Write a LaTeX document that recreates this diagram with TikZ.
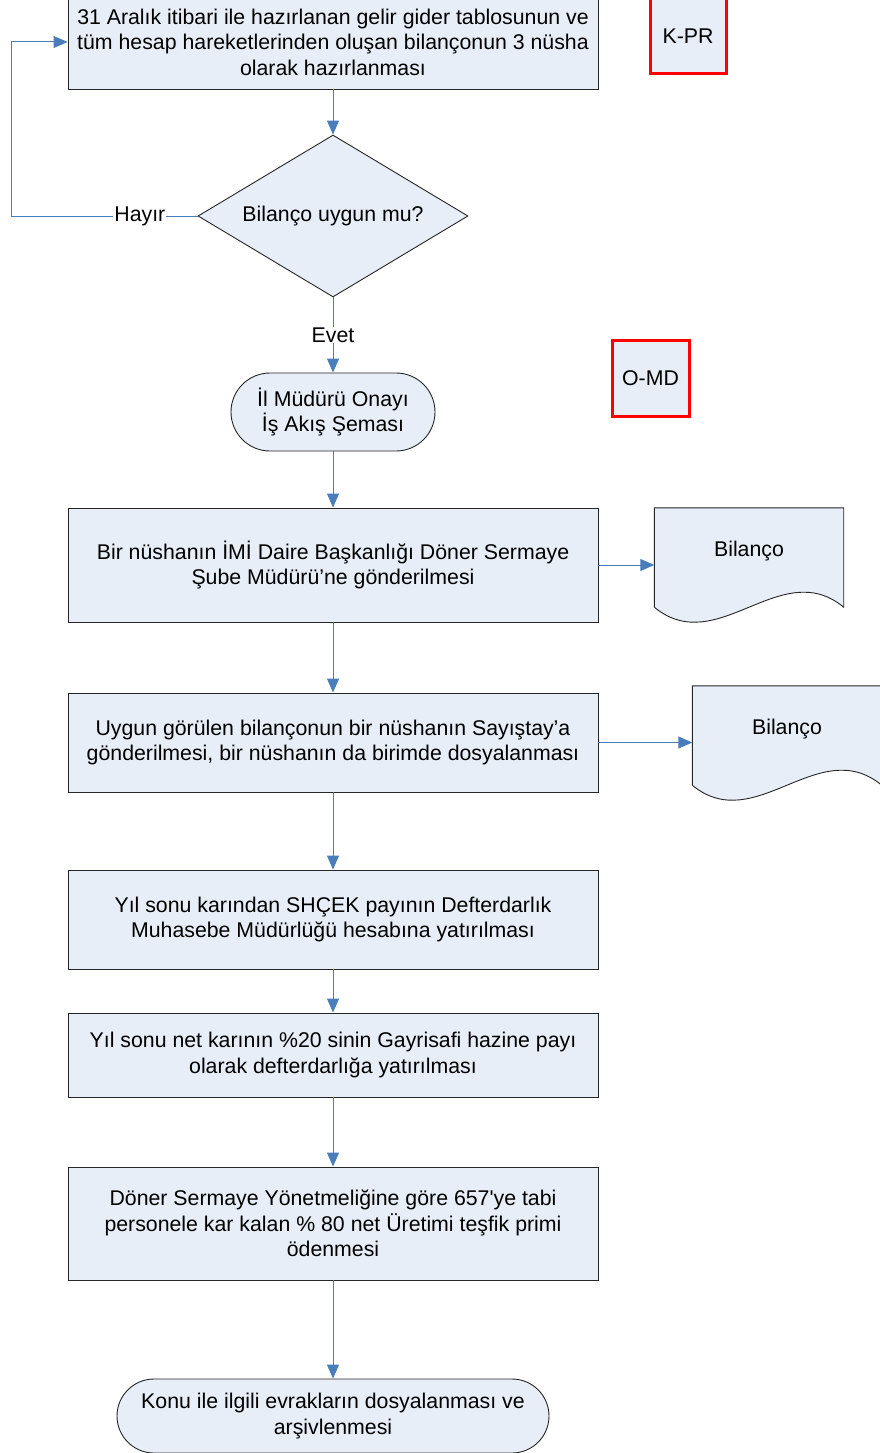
\documentclass[tikz,border=0pt]{standalone}
\usepackage{fontspec}
\setmainfont{Liberation Sans}[Ligatures=TeXOff]
\usepackage{xcolor}
\usepackage{tikz}
\usetikzlibrary{positioning,shapes,shadows,arrows.meta,backgrounds}
\definecolor{boxfill}{HTML}{E8EEF7}
\definecolor{flowblue}{HTML}{4A7EBB}

\begin{document}
\begin{tikzpicture}[
			x=1pt, y=-1pt,
			every node/.style = {font=\fontsize{21.3}{25.5}\selectfont, align=center},
			stepbox/.style = {rectangle, draw=black!85, line width=0.9pt, fill=boxfill,
				minimum width=530pt, inner sep=0pt,
				drop shadow={shadow xshift=1pt, shadow yshift=-1pt, fill=black!45, opacity=1}},
			termbox/.style = {rectangle, draw=black!85, line width=0.9pt, fill=boxfill, inner sep=0pt},
			decision/.style = {diamond, aspect=1.67, draw=black!85, line width=0.9pt, fill=boxfill,
				minimum width=270pt, minimum height=162pt, inner sep=0pt},
			codebox/.style = {rectangle, draw=red, line width=3pt, fill=boxfill,
				minimum width=76pt, minimum height=76pt, inner sep=0pt},
			docnode/.style = {rectangle, minimum width=189pt, minimum height=86pt, inner sep=0pt},
			docshape/.style = {draw=black!85, line width=0.9pt, fill=boxfill},
			flow/.style = {draw=flowblue, line width=1pt, -{Triangle[length=14pt,width=12pt]}},
			lbl/.style = {fill=white, inner sep=1pt}]
			\useasboundingbox (0,0) rectangle (880,1453);
			\node[stepbox, minimum height=94pt] (hazirla) at (333,42)
				{31 Aralık itibari ile hazırlanan gelir gider tablosunun ve\\tüm hesap hareketlerinden oluşan bilançonun 3 nüsha\\olarak hazırlanması};
			\node[codebox] (kpr) at (688,36) {K-PR};
			\node[decision] (uygun) at (333,216) {Bilanço uygun mu?};
			\node[termbox, minimum width=204pt, minimum height=78pt, rounded corners=39pt] (onay) at (333,412)
				{İl Müdürü Onayı\\İş Akış Şeması};
			\node[codebox, minimum width=77pt] (omd) at (650.5,378) {O-MD};
			\node[stepbox, minimum height=114pt] (gonder) at (333,565)
				{Bir nüshanın İMİ Daire Başkanlığı Döner Sermaye\\Şube Müdürü’ne gönderilmesi};
			\node[docnode] (bilanco1) at (749,551) {Bilanço};
			\node[stepbox, minimum height=99pt] (sayistay) at (333,742.5)
				{Uygun görülen bilançonun bir nüshanın Sayıştay’a\\gönderilmesi, bir nüshanın da birimde dosyalanması};
			\node[docnode] (bilanco2) at (787,729) {Bilanço};
			\node[stepbox, minimum height=99pt] (shcek) at (333,919.5)
				{Yıl sonu karından SHÇEK payının Defterdarlık\\Muhasebe Müdürlüğü hesabına yatırılması};
			\node[stepbox, minimum height=84pt] (hazine) at (333,1055)
				{Yıl sonu net karının \%20 sinin Gayrisafi hazine payı\\olarak defterdarlığa yatırılması};
			\node[stepbox, minimum height=113pt] (prim) at (333,1223.5)
				{Döner Sermaye Yönetmeliğine göre 657'ye tabi\\personele kar kalan \% 80 net Üretimi teşfik primi\\ödenmesi};
			\node[termbox, minimum width=432pt, minimum height=74pt, rounded corners=37pt] (arsiv) at (333,1416)
				{Konu ile ilgili evrakların dosyalanması ve\\arşivlenmesi};
			\begin{scope}[on background layer]
				\draw[docshape] (bilanco1.north west) -- ([yshift=-13pt]bilanco1.south west)
					.. controls +(63,52) and +(-63,-52) .. ([yshift=-13pt]bilanco1.south east)
					-- (bilanco1.north east) -- cycle;
				\draw[docshape] (bilanco2.north west) -- ([yshift=-13pt]bilanco2.south west)
					.. controls +(63,52) and +(-63,-52) .. ([yshift=-13pt]bilanco2.south east)
					-- (bilanco2.north east) -- cycle;
			\end{scope}
			\draw[flow] (hazirla) -- (uygun);
			\draw[flow] (uygun.west) -- node[lbl, pos=0.31] {Hayır} ++(-186,0) |- (hazirla.west);
			\draw[flow] (uygun) -- node[lbl] {Evet} (onay);
			\draw[flow] (onay) -- (gonder);
			\draw[flow] (gonder.east) -- (gonder.east -| bilanco1.west);
			\draw[flow] (gonder) -- (sayistay);
			\draw[flow] (sayistay.east) -- (sayistay.east -| bilanco2.west);
			\draw[flow] (sayistay) -- (shcek);
			\draw[flow] (shcek) -- (hazine);
			\draw[flow] (hazine) -- (prim);
			\draw[flow] (prim) -- (arsiv);
			\end{tikzpicture}
\end{document}
